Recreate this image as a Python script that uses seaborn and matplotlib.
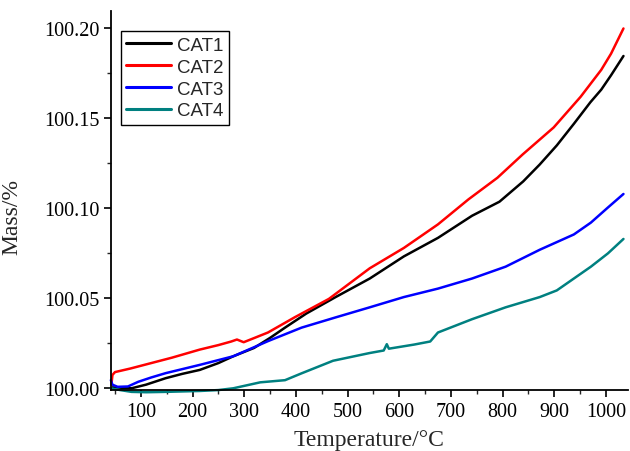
import pandas as pd
import matplotlib.pyplot as plt
import seaborn as sns
from matplotlib.ticker import MultipleLocator

# values
cat1_temp = [45, 60, 82, 110, 148, 180, 214, 250, 279, 319, 350, 379, 420, 477, 543,
             609, 675, 741, 794, 840, 872, 905, 938, 970, 991, 1010, 1034]
cat1_mass = [100.0005, 100.0003, 100.0, 100.002, 100.0056, 100.008, 100.0102, 100.014,
             100.0178, 100.0224, 100.028, 100.0337, 100.0415, 100.0507, 100.061,
             100.0733, 100.0836, 100.0959, 100.1037, 100.115, 100.1244, 100.135,
             100.147, 100.159, 100.166, 100.174, 100.1847]

cat2_temp = [43, 45, 50, 80, 120, 160, 214, 250, 275, 286, 299, 320, 346, 398, 464,
             543, 609, 675, 734, 790, 839, 899, 951, 991, 1010, 1034]
cat2_mass = [100.002, 100.0074, 100.009, 100.011, 100.014, 100.017, 100.0215, 100.024,
             100.026, 100.0271, 100.0256, 100.028, 100.031, 100.0395, 100.0497,
             100.0667, 100.078, 100.0911, 100.105, 100.117, 100.130, 100.145,
             100.162, 100.177, 100.186, 100.200]

cat3_temp = [42, 45, 55, 75, 95, 120, 148, 214, 279, 346, 411, 477, 543, 609, 675,
             741, 806, 872, 938, 971, 1004, 1034]
cat3_mass = [100.0045, 100.002, 100.0008, 100.001, 100.0036, 100.006, 100.0084,
             100.013, 100.0178, 100.0262, 100.0337, 100.0394, 100.045, 100.0507,
             100.0554, 100.061, 100.0676, 100.077, 100.0855, 100.0921, 100.1005,
             100.108]

cat4_temp = [42, 60, 82, 110, 148, 214, 250, 279, 331, 379, 411, 472, 543, 570, 576,
             580, 629, 660, 675, 741, 806, 872, 905, 938, 971, 1004, 1034]
cat4_mass = [100.000, 99.999, 99.998, 99.9978, 99.998, 99.9985, 99.999, 100.000,
             100.0033, 100.0045, 100.0083, 100.0153, 100.0196, 100.021, 100.0245,
             100.022, 100.0243, 100.026, 100.031, 100.0384, 100.045, 100.0507,
             100.0544, 100.061, 100.0676, 100.075, 100.083]

names = ["CAT1", "CAT2", "CAT3", "CAT4"]
colors = ["#000000", "#ff0000", "#0000ff", "#008080"]

frames = []
for name, t, m in zip(names,
                      [cat1_temp, cat2_temp, cat3_temp, cat4_temp],
                      [cat1_mass, cat2_mass, cat3_mass, cat4_mass]):
    frames.append(pd.DataFrame({"Temperature": t, "Mass": m, "Sample": name}))
df = pd.concat(frames, ignore_index=True)

sns.set_style("ticks")
plt.rcParams["font.family"] = ["Liberation Serif", "DejaVu Serif"]

fig = plt.figure(figsize=(6.3, 4.52), dpi=100)
ax = fig.add_axes([0.176, 0.134, 0.821, 0.839])

sns.lineplot(data=df, x="Temperature", y="Mass", hue="Sample", palette=colors,
             linewidth=1.8, estimator=None, sort=False, ax=ax)
for line in ax.get_lines():
    line.set_clip_on(False)

ax.set_xlim(42, 1043)
ax.set_ylim(99.9988, 100.2096)
ax.xaxis.set_minor_locator(MultipleLocator(50))
ax.yaxis.set_major_locator(MultipleLocator(0.05))
ax.yaxis.set_minor_locator(MultipleLocator(0.025))
ax.set_xticks(range(100, 1001, 100))
ax.yaxis.set_major_formatter(plt.FormatStrFormatter("%.2f"))

ax.tick_params(which="major", direction="out", length=5, width=1.2, labelsize=14.5,
               colors="black", pad=3)
ax.tick_params(which="minor", direction="out", length=3, width=1.0)
for side in ["top", "right"]:
    ax.spines[side].set_visible(False)
for side in ["left", "bottom"]:
    ax.spines[side].set_linewidth(1.3)
    ax.spines[side].set_color("black")

ax.set_xlabel("Temperature/°C", fontsize=17, labelpad=6)
ax.set_ylabel("Mass/%", fontsize=17)
ax.yaxis.set_label_coords(-0.171, 0.46)

leg = ax.legend(loc="upper left", bbox_to_anchor=(0.019, 0.947), frameon=True,
                fancybox=False, edgecolor="black", framealpha=1,
                prop={"family": "Liberation Sans", "size": 13.5},
                handlelength=2.4, handletextpad=0.3, labelspacing=0.25,
                borderpad=0.3, borderaxespad=0)
leg.get_frame().set_linewidth(1.0)
for line in leg.get_lines():
    line.set_linewidth(2.2)

fig.savefig("out.png", dpi=100)
